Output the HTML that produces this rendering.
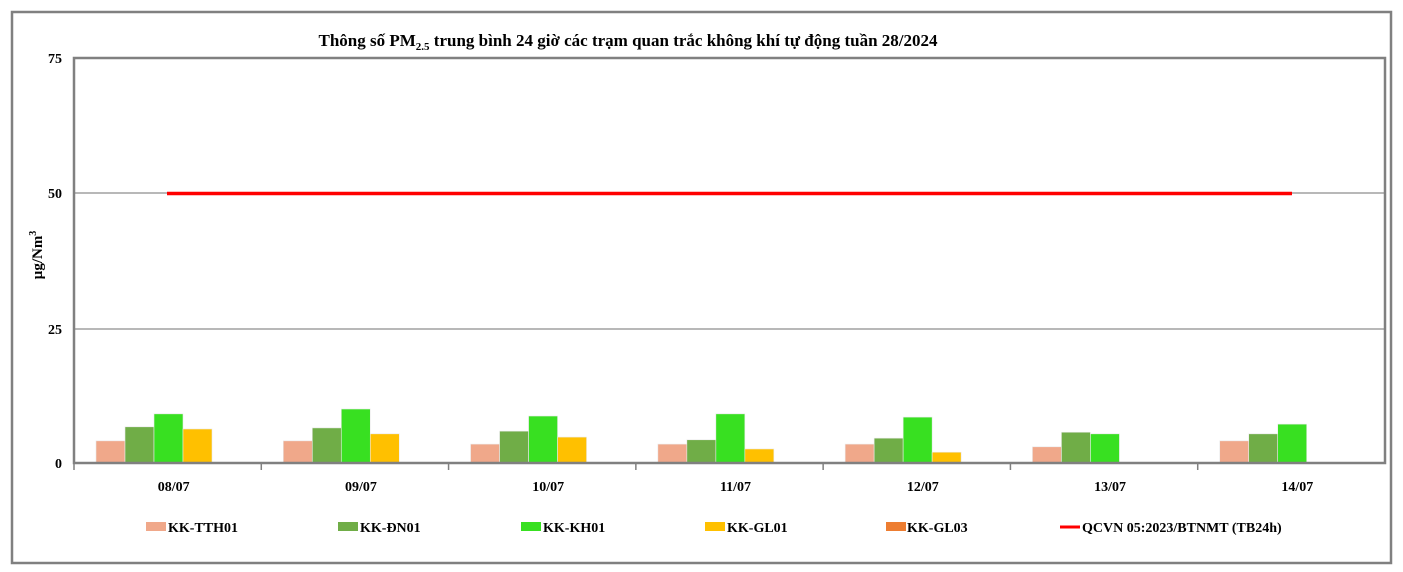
<!DOCTYPE html>
<html><head><meta charset="utf-8"><style>
body{margin:0;background:#fff;}
svg{display:block;font-family:"Liberation Serif",serif;font-weight:bold;}
</style></head><body>
<svg width="1403" height="572" xmlns="http://www.w3.org/2000/svg">
<rect x="12" y="12" width="1379" height="551" fill="#fff" stroke="#808080" stroke-width="2.5"/>
<text x="628" y="46" font-size="17" text-anchor="middle">Thông số PM<tspan font-size="11" dy="4">2.5</tspan><tspan dy="-4"> trung bình 24 giờ các trạm quan trắc không khí tự động tuần 28/2024</tspan></text>
<line x1="74" y1="193" x2="1385" y2="193" stroke="#a0a0a0" stroke-width="1.5"/>
<line x1="74" y1="329" x2="1385" y2="329" stroke="#a0a0a0" stroke-width="1.5"/>
<g id="bars"></g>
<line x1="167" y1="193.5" x2="1292" y2="193.5" stroke="#ff0000" stroke-width="3.5"/>
<rect x="74" y="58" width="1311" height="405" fill="none" stroke="#808080" stroke-width="2.5"/>
<g font-size="14" text-anchor="end">
<text x="62" y="63">75</text><text x="62" y="198">50</text><text x="62" y="334">25</text><text x="62" y="468">0</text>
</g>
<text transform="translate(42,255) rotate(-90)" font-size="15" text-anchor="middle">µg/Nm<tspan font-size="10" dy="-6">3</tspan></text>
<g stroke="#808080" stroke-width="1.5" id="ticks"></g>
<g font-size="14" text-anchor="middle" id="labels"></g>
<g font-size="14">
<rect x="146" y="522" width="20" height="9" fill="#f0a88a"/><text x="168" y="532">KK-TTH01</text>
<rect x="338" y="522" width="20" height="9" fill="#70ad47"/><text x="360" y="532">KK-ĐN01</text>
<rect x="521" y="522" width="20" height="9" fill="#38e021"/><text x="543" y="532">KK-KH01</text>
<rect x="705" y="522" width="20" height="9" fill="#ffc000"/><text x="727" y="532">KK-GL01</text>
<rect x="886" y="522" width="20" height="9" fill="#ed7d31"/><text x="907" y="532">KK-GL03</text>
<line x1="1060" y1="527" x2="1080" y2="527" stroke="#ff0000" stroke-width="3"/><text x="1082" y="532">QCVN 05:2023/BTNMT (TB24h)</text>
</g>
</svg>
<script>
var d=[[4.1,6.7,9.1,6.3],[4.1,6.5,10,5.4],[3.5,5.9,8.7,4.8],[3.5,4.3,9.1,2.6],[3.5,4.6,8.5,2.0],[3.0,5.7,5.4,0],[4.1,5.4,7.2,0]];
var c=["#f0a88a","#70ad47","#38e021","#ffc000"];
var lab=["08/07","09/07","10/07","11/07","12/07","13/07","14/07"];
var ns="http://www.w3.org/2000/svg",b=document.getElementById("bars"),t=document.getElementById("ticks"),l=document.getElementById("labels");
var cw=1311/7;
for(var i=0;i<7;i++){var x0=74+i*cw;
for(var j=0;j<4;j++){var v=d[i][j];if(!v)continue;var h=v*5.4;var r=document.createElementNS(ns,"rect");
r.setAttribute("x",x0+22+j*29);r.setAttribute("y",463-h);r.setAttribute("width",29);r.setAttribute("height",h);r.setAttribute("fill",c[j]);r.setAttribute("stroke","#eaeaea");r.setAttribute("stroke-width","0.6");b.appendChild(r);}
var tk=document.createElementNS(ns,"line");tk.setAttribute("x1",x0);tk.setAttribute("x2",x0);tk.setAttribute("y1",463);tk.setAttribute("y2",470);t.appendChild(tk);
var tx=document.createElementNS(ns,"text");tx.setAttribute("x",x0+cw/2+6);tx.setAttribute("y",491);tx.textContent=lab[i];l.appendChild(tx);}
</script>
</body></html>
